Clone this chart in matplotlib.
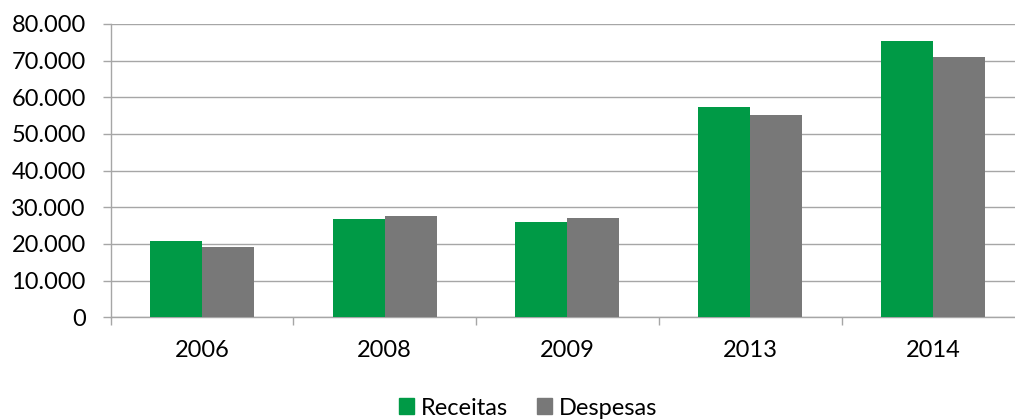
import matplotlib.pyplot as plt
import numpy as np
from matplotlib.patches import Patch
from matplotlib.ticker import FuncFormatter

anos = ['2006', '2008', '2009', '2013', '2014']
receitas = [20800, 26900, 26000, 57400, 75400]
despesas = [19100, 27700, 27100, 55200, 71000]

verde = '#009a46'
cinza = '#787878'
grade = '#a6a6a6'

plt.rcParams['font.family'] = ['Lato', 'DejaVu Sans']

fig = plt.figure(figsize=(10.15, 4.19), dpi=100)
# plot area runs past the right edge, like the cropped original
ax = fig.add_axes([110.6 / 1015, 101.7 / 419, 913.75 / 1015, 293.3 / 419])

x = np.arange(len(anos))
w = 0.2845
ax.bar(x - w / 2, receitas, w, color=verde, zorder=3)
ax.bar(x + w / 2, despesas, w, color=cinza, zorder=3)

ax.set_xlim(-0.5, len(anos) - 0.5)
ax.set_ylim(0, 80000)
ax.set_yticks(np.arange(0, 80001, 10000))
ax.yaxis.set_major_formatter(FuncFormatter(lambda v, p: f'{int(v):,}'.replace(',', '.')))
ax.yaxis.grid(True, color=grade, lw=1.0, zorder=0)

ax.set_xticks(x)
ax.set_xticklabels(anos)
ax.set_xticks(np.arange(-0.5, len(anos), 1), minor=True)
ax.tick_params(axis='x', which='major', length=0, pad=16, labelsize=17)
ax.tick_params(axis='x', which='minor', length=5.5, color=grade, width=1)
ax.tick_params(axis='y', length=5.8, color=grade, width=1, pad=12, labelsize=17)

for s in ['top', 'right']:
    ax.spines[s].set_visible(False)
for s in ['left', 'bottom']:
    ax.spines[s].set_color(grade)
    ax.spines[s].set_linewidth(1)

handles = [Patch(color=verde, label='Receitas'), Patch(color=cinza, label='Despesas')]
fig.legend(handles=handles, loc='center', bbox_to_anchor=(528 / 1015, 1 - 408 / 419),
           ncol=2, frameon=False, fontsize=17, handlelength=0.64, handleheight=0.64,
           handletextpad=0.3, columnspacing=1.2, borderpad=0)

fig.savefig('out.png', dpi=100)
